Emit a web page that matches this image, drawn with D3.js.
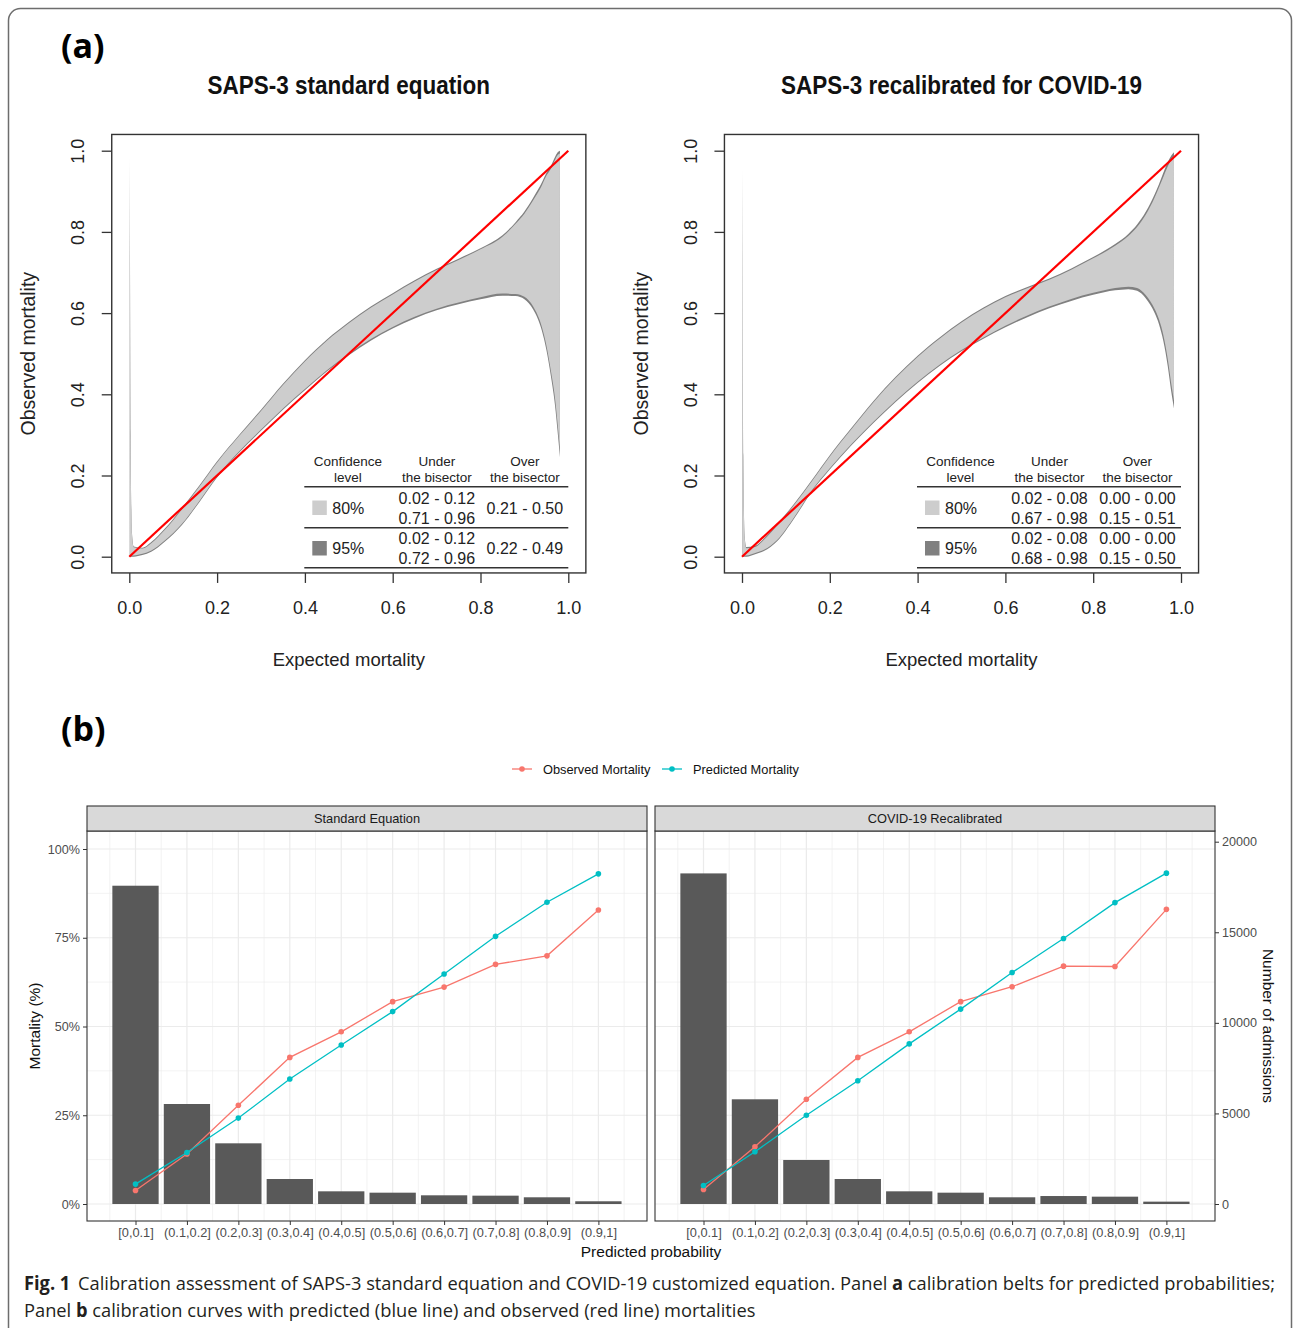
<!DOCTYPE html>
<html>
<head>
<meta charset="utf-8">
<script src="https://cdn.jsdelivr.net/npm/d3@7"></script>
<style>
    body { margin: 0; background: #fff; }
    svg { display: block; }
    text { font-family: "Liberation Sans", Arial, sans-serif; }
</style>
</head>
<body>
<svg id="fig" width="1293" height="1328"></svg>
<script>
/* ---------- Panel (a): calibration belts ---------- */
const beltTitles = ['SAPS-3 standard equation', 'SAPS-3 recalibrated for COVID-19'];

const beltXStd    = [0.001, 0.003, 0.006, 0.01, 0.03, 0.05, 0.08, 0.12, 0.16, 0.2, 0.25, 0.3, 0.35, 0.4, 0.45, 0.5, 0.55, 0.6, 0.65, 0.7, 0.75, 0.8, 0.85, 0.88, 0.9, 0.92, 0.94, 0.95, 0.96, 0.97, 0.975, 0.981];
const upper95Std  = [0.99, 0.30, 0.06, 0.025, 0.022, 0.036, 0.068, 0.12, 0.176, 0.235, 0.30, 0.362, 0.426, 0.484, 0.535, 0.578, 0.616, 0.649, 0.681, 0.709, 0.734, 0.76, 0.792, 0.824, 0.85, 0.884, 0.922, 0.945, 0.962, 0.985, 0.995, 1.0];
const upper80Std  = [0.985, 0.29, 0.057, 0.023, 0.02, 0.033, 0.065, 0.117, 0.173, 0.232, 0.297, 0.359, 0.423, 0.481, 0.532, 0.575, 0.613, 0.646, 0.678, 0.706, 0.731, 0.757, 0.788, 0.82, 0.845, 0.878, 0.915, 0.938, 0.955, 0.978, 0.988, 0.993];
const lower80Std  = [0.003, 0.003, 0.003, 0.003, 0.007, 0.015, 0.039, 0.081, 0.138, 0.198, 0.259, 0.313, 0.365, 0.413, 0.459, 0.5, 0.536, 0.566, 0.591, 0.611, 0.626, 0.639, 0.648, 0.647, 0.64, 0.616, 0.565, 0.521, 0.46, 0.388, 0.335, 0.265];
const lower95Std  = [0.0, 0.0, 0.0, 0.0, 0.004, 0.012, 0.036, 0.078, 0.135, 0.195, 0.256, 0.31, 0.362, 0.41, 0.456, 0.496, 0.532, 0.562, 0.587, 0.607, 0.622, 0.634, 0.643, 0.642, 0.634, 0.609, 0.556, 0.51, 0.447, 0.37, 0.315, 0.245];

const beltXCov    = [0.001, 0.003, 0.006, 0.01, 0.03, 0.05, 0.08, 0.12, 0.16, 0.2, 0.25, 0.3, 0.35, 0.4, 0.45, 0.5, 0.55, 0.6, 0.65, 0.7, 0.75, 0.8, 0.85, 0.88, 0.9, 0.92, 0.94, 0.95, 0.96, 0.97, 0.978, 0.984];
const upper95Cov  = [0.96, 0.25, 0.05, 0.024, 0.027, 0.045, 0.08, 0.132, 0.19, 0.25, 0.318, 0.384, 0.443, 0.495, 0.54, 0.58, 0.614, 0.642, 0.664, 0.685, 0.71, 0.738, 0.77, 0.795, 0.818, 0.85, 0.893, 0.918, 0.946, 0.972, 0.988, 0.996];
const upper80Cov  = [0.95, 0.24, 0.047, 0.021, 0.024, 0.042, 0.077, 0.129, 0.187, 0.247, 0.315, 0.381, 0.44, 0.492, 0.537, 0.577, 0.611, 0.639, 0.661, 0.682, 0.707, 0.735, 0.766, 0.79, 0.812, 0.843, 0.885, 0.91, 0.936, 0.962, 0.978, 0.987];
const lower80Cov  = [0.003, 0.003, 0.003, 0.003, 0.009, 0.017, 0.041, 0.099, 0.165, 0.218, 0.278, 0.333, 0.384, 0.431, 0.473, 0.509, 0.54, 0.569, 0.594, 0.616, 0.635, 0.65, 0.662, 0.665, 0.662, 0.644, 0.61, 0.584, 0.545, 0.486, 0.425, 0.385];
const lower95Cov  = [0.0, 0.0, 0.0, 0.0, 0.006, 0.014, 0.038, 0.096, 0.162, 0.215, 0.275, 0.33, 0.381, 0.428, 0.47, 0.506, 0.537, 0.565, 0.59, 0.612, 0.63, 0.645, 0.656, 0.659, 0.655, 0.636, 0.6, 0.572, 0.53, 0.468, 0.405, 0.365];

const beltTicks = [0, 0.2, 0.4, 0.6, 0.8, 1.0];
const tableHeader = [['Confidence', 'level'], ['Under', 'the bisector'], ['Over', 'the bisector']];
const tableLevels = ['80%', '95%'];
const tableStd = [[['0.02 - 0.12', '0.71 - 0.96'], ['0.21 - 0.50']],
                  [['0.02 - 0.12', '0.72 - 0.96'], ['0.22 - 0.49']]];
const tableCov = [[['0.02 - 0.08', '0.67 - 0.98'], ['0.00 - 0.00', '0.15 - 0.51']],
                  [['0.02 - 0.08', '0.68 - 0.98'], ['0.00 - 0.00', '0.15 - 0.50']]];

/* ---------- Panel (b): calibration curves ---------- */
const bins = ['[0,0.1]', '(0.1,0.2]', '(0.2,0.3]', '(0.3,0.4]', '(0.4,0.5]', '(0.5,0.6]', '(0.6,0.7]', '(0.7,0.8]', '(0.8,0.9]', '(0.9,1]'];
const facets = ['Standard Equation', 'COVID-19 Recalibrated'];
const admissionsStd = [17570, 5520, 3350, 1380, 700, 625, 480, 460, 370, 150];
const admissionsCov = [18250, 5780, 2430, 1380, 700, 625, 370, 440, 405, 130];
const observedStd  = [3.8, 14.1, 27.8, 41.3, 48.5, 57.0, 61.1, 67.5, 69.9, 82.8];
const predictedStd = [5.6, 14.5, 24.2, 35.2, 44.8, 54.2, 64.8, 75.4, 85.0, 93.0];
const observedCov  = [4.1, 16.1, 29.5, 41.3, 48.5, 57.0, 61.2, 67.0, 66.9, 83.0];
const predictedCov = [5.2, 14.7, 25.0, 34.7, 45.1, 54.9, 65.2, 74.8, 84.9, 93.2];
const pctTicks = [0, 25, 50, 75, 100];
const pctMinor = [12.5, 37.5, 62.5, 87.5];
const countTicks = [0, 5000, 10000, 15000, 20000];
const seriesNames = ['Observed Mortality', 'Predicted Mortality'];
const seriesColors = ['#F8766D', '#00BFC4'];

const svg = d3.select('#fig');

/* Figure frame */
svg.append('rect')
    .attr('x', 8.5).attr('y', 8.5)
    .attr('width', 1283).attr('height', 1340)
    .attr('rx', 12)
    .attr('fill', 'none').attr('stroke', '#6d6d6d').attr('stroke-width', 1.5);

svg.append('text').attr('x', 61).attr('y', 58)
    .style('font-family', '"Open Sans", sans-serif')
    .attr('font-weight', 700).attr('font-size', 34).text('(a)');
svg.append('text').attr('x', 61).attr('y', 741)
    .style('font-family', '"Open Sans", sans-serif')
    .attr('font-weight', 700).attr('font-size', 34).text('(b)');

function drawBelt(left, title, bx, u95, u80, l80, l95, table) {
    const x = d3.scaleLinear().domain([0, 1]).range([left, left + 439]);
    const y = d3.scaleLinear().domain([0, 1]).range([556.7, 150.7]);
    const g = svg.append('g');

    const rows = bx.map((d, i) => ({x: d, u95: u95[i], u80: u80[i], l80: l80[i], l95: l95[i]}));
    const area95 = d3.area().curve(d3.curveMonotoneX)
        .x(d => x(d.x)).y0(d => y(d.l95)).y1(d => y(d.u95));
    const area80 = d3.area().curve(d3.curveMonotoneX)
        .x(d => x(d.x)).y0(d => y(d.l80)).y1(d => y(d.u80));

    g.append('path').attr('d', area95(rows)).attr('fill', '#808080');
    g.append('path').attr('d', area80(rows)).attr('fill', '#cdcdcd');

    /* bisector */
    g.append('line')
        .attr('x1', x(0)).attr('y1', y(0)).attr('x2', x(1)).attr('y2', y(1))
        .attr('stroke', '#ff0000').attr('stroke-width', 2.2);

    /* box */
    g.append('rect')
        .attr('x', x(-0.04)).attr('y', y(1.04))
        .attr('width', x(1.04) - x(-0.04)).attr('height', y(-0.04) - y(1.04))
        .attr('fill', 'none').attr('stroke', '#333').attr('stroke-width', 1.4);

    const xAxis = g.append('g').attr('transform', `translate(0,${y(-0.04)})`)
        .call(d3.axisBottom(x).tickValues(beltTicks).tickFormat(d3.format('.1f'))
            .tickSize(10).tickPadding(18));
    const yAxis = g.append('g').attr('transform', `translate(${x(-0.04)},0)`)
        .call(d3.axisLeft(y).tickValues(beltTicks).tickFormat(d3.format('.1f')).tickSize(10));
    [xAxis, yAxis].forEach(a => {
        a.select('.domain').remove();
        a.selectAll('.tick line').attr('stroke', '#333').attr('stroke-width', 1.3);
        a.selectAll('.tick text').attr('fill', '#222').attr('font-size', 18)
            .style('font-family', '"Liberation Sans", Arial, sans-serif');
    });
    yAxis.selectAll('.tick text')
        .attr('x', null).attr('dy', '0.35em')
        .attr('text-anchor', 'middle')
        .attr('transform', 'translate(-34,0) rotate(-90)');

    const cx = (x(0) + x(1)) / 2;
    g.append('text').attr('transform', `translate(${cx},94) scale(1,1.12)`)
        .attr('text-anchor', 'middle').attr('font-weight', 700).attr('font-size', 22.5)
        .attr('fill', '#111').text(title);
    g.append('text').attr('x', cx).attr('y', 666)
        .attr('text-anchor', 'middle').attr('font-size', 18.5).attr('fill', '#222')
        .text('Expected mortality');
    g.append('text')
        .attr('transform', `translate(${left - 94},${(y(0) + y(1)) / 2}) rotate(-90)`)
        .attr('text-anchor', 'middle').attr('font-size', 19.5).attr('fill', '#222')
        .text('Observed mortality');

    /* legend table */
    const t = g.append('g').attr('fill', '#222');
    const colX = [left + 218.5, left + 307.5, left + 395.5];
    tableHeader.forEach((h, i) => {
        t.append('text').attr('x', colX[i]).attr('y', 466).attr('text-anchor', 'middle')
            .attr('font-size', 13.5).text(h[0]);
        t.append('text').attr('x', colX[i]).attr('y', 482).attr('text-anchor', 'middle')
            .attr('font-size', 13.5).text(h[1]);
    });
    [486.7, 527.7, 567.7].forEach(ly => {
        t.append('line').attr('x1', left + 175).attr('x2', x(1))
            .attr('y1', ly).attr('y2', ly).attr('stroke', '#333').attr('stroke-width', 1.4);
    });
    tableLevels.forEach((lev, r) => {
        const mid = 507.5 + r * 40.5;
        t.append('rect').attr('x', left + 183).attr('y', mid - 7)
            .attr('width', 14.5).attr('height', 14.5)
            .attr('fill', r === 0 ? '#cdcdcd' : '#808080');
        t.append('text').attr('x', left + 203).attr('y', mid + 6)
            .attr('font-size', 16).text(lev);
        table[r].forEach((cell, c) => {
            cell.forEach((v, k) => {
                const yy = cell.length === 1 ? mid + 6 : mid - 4 + k * 20;
                t.append('text').attr('x', colX[c + 1]).attr('y', yy)
                    .attr('text-anchor', 'middle').attr('font-size', 16).text(v);
            });
        });
    });
}

drawBelt(129.3, beltTitles[0], beltXStd, upper95Std, upper80Std, lower80Std, lower95Std, tableStd);
drawBelt(742, beltTitles[1], beltXCov, upper95Cov, upper80Cov, lower80Cov, lower95Cov, tableCov);

/* ---------- panel (b) ---------- */
const yPct = d3.scaleLinear().domain([0, 100]).range([1204, 849]);
const yCnt = d3.scaleLinear().domain([0, 20000]).range([1204, 841.7]);
const panelTop = 831, panelBottom = 1221, stripTop = 806;

function drawFacet(left, name, counts, observed, predicted, isFirst) {
    const right = left + 560;
    const x = d3.scalePoint().domain(bins).range([left + 48.5, right - 48.6]);
    const step = x.step();
    const g = svg.append('g');

    /* grid */
    const minorX = d3.range(-0.5, bins.length, 1).map(i => x(bins[0]) + i * step);
    g.selectAll('.vminor').data(minorX).join('line')
        .attr('x1', d => d).attr('x2', d => d).attr('y1', panelTop).attr('y2', panelBottom)
        .attr('stroke', '#ebebeb').attr('stroke-width', 0.6);
    g.selectAll('.hminor').data(pctMinor).join('line')
        .attr('x1', left).attr('x2', right).attr('y1', d => yPct(d)).attr('y2', d => yPct(d))
        .attr('stroke', '#ebebeb').attr('stroke-width', 0.6);
    g.selectAll('.vmajor').data(bins).join('line')
        .attr('x1', d => x(d)).attr('x2', d => x(d)).attr('y1', panelTop).attr('y2', panelBottom)
        .attr('stroke', '#ebebeb').attr('stroke-width', 1.2);
    g.selectAll('.hmajor').data(pctTicks).join('line')
        .attr('x1', left).attr('x2', right).attr('y1', d => yPct(d)).attr('y2', d => yPct(d))
        .attr('stroke', '#ebebeb').attr('stroke-width', 1.2);

    /* bars */
    g.selectAll('.bar').data(counts).join('rect')
        .attr('x', (d, i) => x(bins[i]) - step * 0.45)
        .attr('width', step * 0.9)
        .attr('y', d => yCnt(d))
        .attr('height', d => yCnt(0) - yCnt(d))
        .attr('fill', '#595959');

    /* lines */
    [observed, predicted].forEach((vals, s) => {
        const line = d3.line().x((d, i) => x(bins[i])).y(d => yPct(d));
        g.append('path').attr('d', line(vals)).attr('fill', 'none')
            .attr('stroke', seriesColors[s]).attr('stroke-width', 1.3);
        g.selectAll(null).data(vals).join('circle')
            .attr('cx', (d, i) => x(bins[i])).attr('cy', d => yPct(d))
            .attr('r', 2.8).attr('fill', seriesColors[s]);
    });

    /* border + strip */
    g.append('rect').attr('x', left).attr('y', panelTop)
        .attr('width', right - left).attr('height', panelBottom - panelTop)
        .attr('fill', 'none').attr('stroke', '#333').attr('stroke-width', 1.1);
    g.append('rect').attr('x', left).attr('y', stripTop)
        .attr('width', right - left).attr('height', panelTop - stripTop)
        .attr('fill', '#d9d9d9').attr('stroke', '#333').attr('stroke-width', 1.1);
    g.append('text').attr('x', (left + right) / 2).attr('y', 823)
        .attr('text-anchor', 'middle').attr('font-size', 12.8).attr('fill', '#1a1a1a').text(name);

    /* x axis */
    const xa = g.append('g').attr('transform', `translate(0,${panelBottom})`)
        .call(d3.axisBottom(x).tickSize(4).tickPadding(3));
    xa.select('.domain').remove();
    xa.selectAll('.tick line').attr('stroke', '#333');
    xa.selectAll('.tick text').attr('font-size', 12.8).attr('fill', '#4d4d4d')
        .style('font-family', '"Liberation Sans", Arial, sans-serif');

    if (isFirst) {
        const ya = g.append('g').attr('transform', `translate(${left},0)`)
            .call(d3.axisLeft(yPct).tickValues(pctTicks).tickFormat(d => d + '%').tickSize(4).tickPadding(3));
        ya.select('.domain').remove();
        ya.selectAll('.tick line').attr('stroke', '#333');
        ya.selectAll('.tick text').attr('font-size', 12.6).attr('fill', '#4d4d4d')
            .style('font-family', '"Liberation Sans", Arial, sans-serif');
    } else {
        const ya = g.append('g').attr('transform', `translate(${right},0)`)
            .call(d3.axisRight(yCnt).tickValues(countTicks).tickFormat(d3.format('d')).tickSize(4).tickPadding(3));
        ya.select('.domain').remove();
        ya.selectAll('.tick line').attr('stroke', '#333');
        ya.selectAll('.tick text').attr('font-size', 12.6).attr('fill', '#4d4d4d')
            .style('font-family', '"Liberation Sans", Arial, sans-serif');
    }
}

drawFacet(87, facets[0], admissionsStd, observedStd, predictedStd, true);
drawFacet(655, facets[1], admissionsCov, observedCov, predictedCov, false);

/* axis titles */
svg.append('text').attr('x', 651).attr('y', 1257).attr('text-anchor', 'middle')
    .attr('font-size', 15.5).attr('fill', '#111').text('Predicted probability');
svg.append('text').attr('transform', 'translate(40,1026) rotate(-90)')
    .attr('text-anchor', 'middle').attr('font-size', 15.5).attr('fill', '#111').text('Mortality (%)');
svg.append('text').attr('transform', 'translate(1263,1026) rotate(90)')
    .attr('text-anchor', 'middle').attr('font-size', 15.5).attr('fill', '#111').text('Number of admissions');

/* legend */
const legX = [512, 662];
seriesNames.forEach((n, i) => {
    const lg = svg.append('g').attr('transform', `translate(${legX[i]},769)`);
    lg.append('line').attr('x1', 0).attr('x2', 20).attr('stroke', seriesColors[i]).attr('stroke-width', 1.3);
    lg.append('circle').attr('cx', 10).attr('r', 2.8).attr('fill', seriesColors[i]);
    lg.append('text').attr('x', 31).attr('y', 4.5).attr('font-size', 12.8).attr('fill', '#111').text(n);
});

/* caption */
const capFont = '"Open Sans", sans-serif';
const cap1 = svg.append('text').attr('y', 1290).attr('font-size', 19).attr('fill', '#231f20')
    .style('font-family', capFont);
cap1.append('tspan').attr('font-weight', 700).text('Fig. 1');
cap1.append('tspan').attr('dx', 8).text('Calibration assessment of SAPS-3 standard equation and COVID-19 customized equation. Panel ');
cap1.append('tspan').attr('font-weight', 700).text('a');
cap1.append('tspan').text(' calibration belts for predicted probabilities;');
const cap2 = svg.append('text').attr('y', 1317).attr('font-size', 19).attr('fill', '#231f20')
    .style('font-family', capFont);
cap2.append('tspan').text('Panel ');
cap2.append('tspan').attr('font-weight', 700).text('b');
cap2.append('tspan').text(' calibration curves with predicted (blue line) and observed (red line) mortalities');

/* squeeze the caption to the width of the printed one */
const sx = 1245 / cap1.node().getComputedTextLength();
[cap1, cap2].forEach(c => {
    const yy = c.attr('y');
    c.attr('y', null).attr('transform', `translate(24,${yy}) scale(${sx},1)`);
});
</script>
</body>
</html>
